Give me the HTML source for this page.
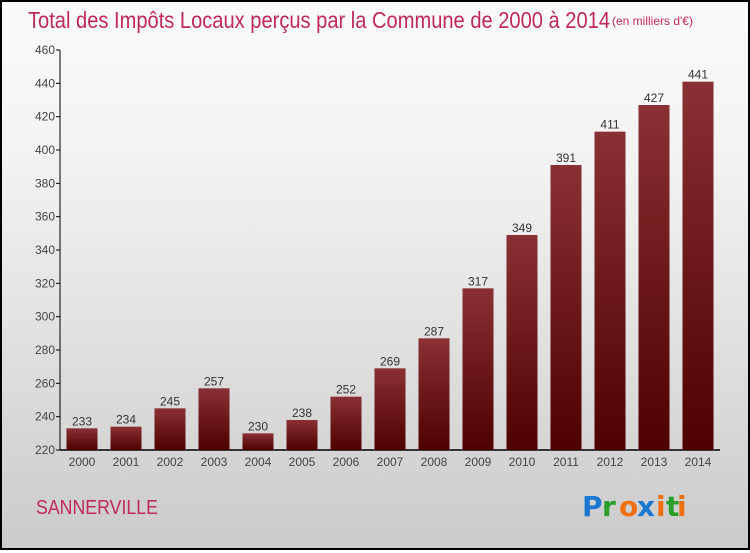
<!DOCTYPE html>
<html><head><meta charset="utf-8"><style>
body{margin:0;width:750px;height:550px;overflow:hidden;font-family:"Liberation Sans",sans-serif}
#wrap{position:absolute;left:0;top:0;width:746px;height:546px;border:2px solid #000;background:linear-gradient(#fbfbfb,#f2f2f2 30%,#cbcbcb)}
</style></head><body>
<div id="wrap">
<svg width="746" height="546" viewBox="2 2 746 546" xmlns="http://www.w3.org/2000/svg">
<defs><linearGradient id="bg" x1="0" y1="0" x2="0" y2="1"><stop offset="0" stop-color="#8a3034"/><stop offset="1" stop-color="#4e0000"/></linearGradient></defs>
<text x="28" y="28" font-size="23" fill="#c0285a" font-weight="300" textLength="582" lengthAdjust="spacingAndGlyphs">Total des Impôts Locaux perçus par la Commune de 2000 à 2014</text>
<text x="612" y="25" font-size="12" fill="#c0285a">(en milliers d'€)</text>
<g id="axes"></g><g id="bars"></g>
<text x="36" y="514" font-size="20" fill="#c0285a" textLength="122" lengthAdjust="spacingAndGlyphs">SANNERVILLE</text>
<g font-size="28" font-weight="bold" font-family="'DejaVu Sans',sans-serif">
<text x="582" y="516" fill="#1a78d0">P</text><text x="602" y="516" fill="#2aa02a">r</text><text x="619" y="516" fill="#f07010">o</text><text x="637" y="516" fill="#1a78d0">x</text><text x="656" y="516" fill="#f07010">i</text><text x="666" y="516" fill="#2aa02a">t</text><text x="677" y="516" fill="#f07010">i</text>
</g>
</svg></div>
<script>
const years=["2000","2001","2002","2003","2004","2005","2006","2007","2008","2009","2010","2011","2012","2013","2014"];
const values=[233,234,245,257,230,238,252,269,287,317,349,391,411,427,441];
const yTicks=[220,240,260,280,300,320,340,360,380,400,420,440,460];
const NS="http://www.w3.org/2000/svg";
const y0=450,y1=50,vmin=220,vmax=460,x0=60,step=44,bw=31;
const y=v=>y0-(v-vmin)/(vmax-vmin)*(y0-y1);
const xc=i=>82+i*step;
function mk(t,a,p){const e=document.createElementNS(NS,t);for(const k in a)e.setAttribute(k,a[k]);p.appendChild(e);return e;}
const ax=document.getElementById('axes'),bg=document.getElementById('bars');
let l=mk('line',{x1:x0,y1:y1,x2:x0,y2:y0,stroke:'#000'},ax);


l=mk('line',{x1:x0,y1:y0,x2:720,y2:y0,stroke:'#000','stroke-width':1.5},ax);


yTicks.forEach(v=>{
 const tk=mk('line',{x1:x0-4,y1:y(v),x2:x0,y2:y(v),stroke:'#000'},ax);
 
 
 const t=mk('text',{x:x0-5,y:y(v)+4,'font-size':12,fill:'#444','text-anchor':'end'},ax);t.textContent=v;
 
 
});
years.forEach((yr,i)=>{
 const v=values[i];
 const r=mk('rect',{x:xc(i)-bw/2,y:y(v),width:bw,height:y0-y(v),fill:'url(#bg)'},bg);
 
 
 const t=mk('text',{x:xc(i),y:y(v)-3,'font-size':12,fill:'#333','text-anchor':'middle'},bg);t.textContent=v;
 
 
 const xl=mk('text',{x:xc(i),y:466,'font-size':12,fill:'#444','text-anchor':'middle'},bg);xl.textContent=yr;
 
 
});
</script>
</body></html>
